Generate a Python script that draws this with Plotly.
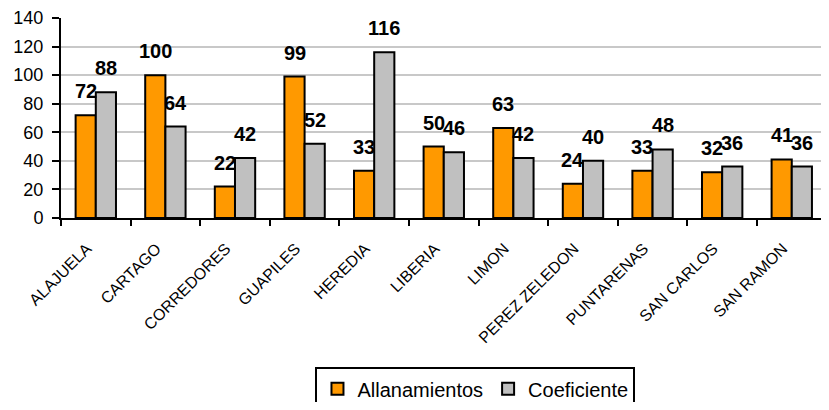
import plotly.graph_objects as go

# Datos por oficina
oficinas = ['ALAJUELA', 'CARTAGO', 'CORREDORES', 'GUAPILES', 'HEREDIA', 'LIBERIA',
            'LIMON', 'PEREZ ZELEDON', 'PUNTARENAS', 'SAN CARLOS', 'SAN RAMON']
allanamientos = [72, 100, 22, 99, 33, 50, 63, 24, 33, 32, 41]
coeficiente = [88, 64, 42, 52, 116, 46, 42, 40, 48, 36, 36]

fuente = 'Arial, Liberation Sans, sans-serif'
bargap = 0.42
off = (1 - bargap) / 4  # centro de cada barra respecto a la categoría

fig = go.Figure()
fig.add_trace(go.Bar(x=oficinas, y=allanamientos, name='Allanamientos',
                     marker=dict(color='#FF9900', line=dict(color='black', width=2))))
fig.add_trace(go.Bar(x=oficinas, y=coeficiente, name='Coeficiente',
                     marker=dict(color='#C0C0C0', line=dict(color='black', width=2))))

# Etiquetas de datos
for i, (a, c) in enumerate(zip(allanamientos, coeficiente)):
    for dx, v in ((-off, a), (off, c)):
        fig.add_annotation(x=i + dx, y=v, text=str(v), showarrow=False,
                           yanchor='bottom', yshift=11,
                           font=dict(family=fuente, size=20, color='black', weight='bold'))

# la página tiene 8px de margen: la figura se reduce para no desbordar la ventana
fig.update_layout(
    width=813, height=394,
    margin=dict(l=53, r=0, t=10, b=184, autoexpand=False),
    barmode='group', bargap=bargap, bargroupgap=0,
    plot_bgcolor='white', paper_bgcolor='white',
    font=dict(family=fuente, color='black'),
    showlegend=True,
    legend=dict(orientation='h', xref='container', yref='container',
                x=0.575, xanchor='center', y=0.088, yanchor='top',
                bordercolor='black', borderwidth=2, bgcolor='white',
                font=dict(size=20, family=fuente), itemwidth=30,
                tracegroupgap=0),
    xaxis=dict(range=[-0.5, 10.42], tickangle=-45, tickson='boundaries',
               ticks='outside', ticklen=6, tickwidth=2, tickcolor='black',
               showline=True, linecolor='black', linewidth=2,
               tickfont=dict(size=16, family=fuente), ticklabelstandoff=13,
               ticklabelshift=-9),
    yaxis=dict(range=[0, 140], dtick=20, ticks='outside', ticklen=7,
               tickwidth=2, tickcolor='black', showline=True, linecolor='black',
               linewidth=2, showgrid=True, gridcolor='#C8C8C8', gridwidth=2,
               tickfont=dict(size=18, family=fuente), ticklabelstandoff=5,
               zeroline=False),
)

fig.write_html('out.html')
